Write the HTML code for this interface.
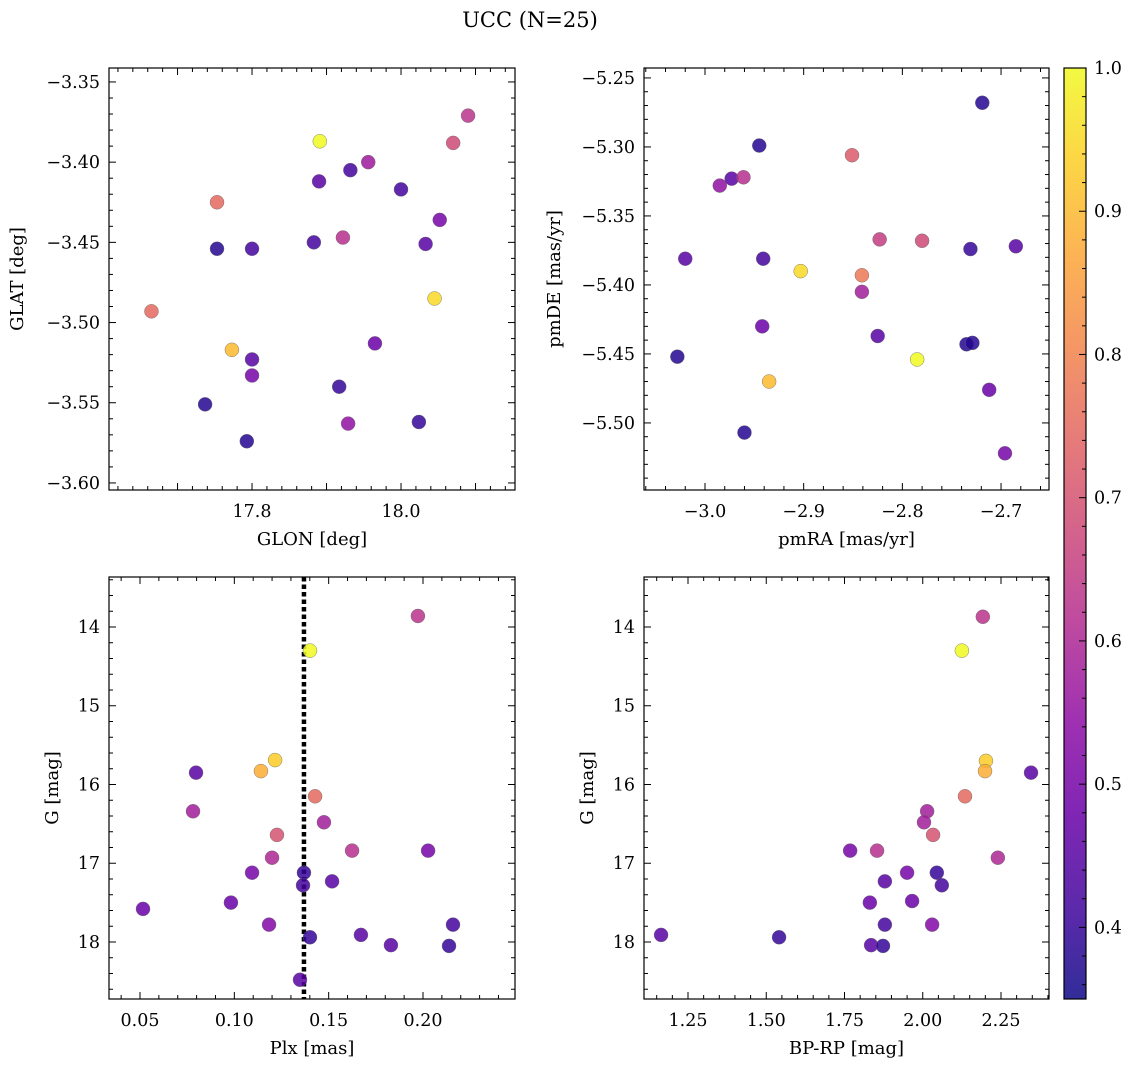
<!DOCTYPE html>
<html><head><meta charset="utf-8"><style>
html,body{margin:0;padding:0;background:#fff}
svg{display:block;font-family:"DejaVu Serif","Liberation Serif",serif}
</style></head><body>
<svg id="fig" width="1136" height="1067" viewBox="0 0 1136 1067" xmlns="http://www.w3.org/2000/svg">
<defs><linearGradient id="cbg" x1="0" y1="1" x2="0" y2="0">
<stop offset="0" stop-color="#0d0887"/><stop offset="0.1" stop-color="#41049d"/><stop offset="0.2" stop-color="#6a00a8"/><stop offset="0.3" stop-color="#8f0da4"/><stop offset="0.4" stop-color="#b12a90"/><stop offset="0.5" stop-color="#cc4778"/><stop offset="0.6" stop-color="#e16462"/><stop offset="0.7" stop-color="#f2844b"/><stop offset="0.8" stop-color="#fca636"/><stop offset="0.9" stop-color="#fcce25"/><stop offset="1" stop-color="#f0f921"/></linearGradient></defs>
<text x="530" y="27" font-size="21" text-anchor="middle">UCC (N=25)</text>
</svg>
<script>
// panel 1: GLON / GLAT
const glon=[18.090,17.891,18.070,17.956,17.932,17.890,18.000,17.753,18.052,17.922,17.883,17.753,17.800,18.033,18.045,17.665,17.773,17.965,17.800,17.800,17.917,17.737,17.929,18.024,17.793];
const glat=[-3.371,-3.387,-3.388,-3.400,-3.405,-3.412,-3.417,-3.425,-3.436,-3.447,-3.450,-3.454,-3.454,-3.451,-3.485,-3.493,-3.517,-3.513,-3.523,-3.533,-3.540,-3.551,-3.563,-3.562,-3.574];
const prob1=[0.63,1.0,0.68,0.57,0.42,0.45,0.42,0.75,0.5,0.62,0.42,0.38,0.42,0.45,0.95,0.75,0.9,0.48,0.45,0.5,0.4,0.38,0.55,0.4,0.38];
// panel 2: pmRA / pmDE
const pmra=[-2.719,-2.945,-2.851,-2.985,-2.973,-2.961,-2.823,-2.780,-2.731,-2.685,-3.020,-2.941,-2.903,-2.841,-2.841,-2.942,-2.825,-2.735,-2.729,-3.028,-2.785,-2.935,-2.712,-2.960,-2.696];
const pmde=[-5.268,-5.299,-5.306,-5.328,-5.323,-5.322,-5.367,-5.368,-5.374,-5.372,-5.381,-5.381,-5.390,-5.393,-5.405,-5.430,-5.437,-5.443,-5.442,-5.452,-5.454,-5.470,-5.476,-5.507,-5.522];
const prob2=[0.38,0.38,0.72,0.55,0.45,0.62,0.65,0.68,0.4,0.45,0.45,0.42,0.95,0.78,0.58,0.48,0.45,0.38,0.38,0.38,1.0,0.9,0.48,0.38,0.5];
// panel 3: Plx / G
const plx=[0.1973,0.1401,0.1216,0.1141,0.0797,0.1428,0.0781,0.1475,0.1226,0.1624,0.2027,0.1200,0.1369,0.1094,0.1518,0.1364,0.0516,0.0982,0.1184,0.2159,0.1671,0.1401,0.1830,0.2138,0.1348];
const gmag=[13.86,14.30,15.69,15.83,15.85,16.15,16.34,16.48,16.64,16.84,16.84,16.93,17.12,17.12,17.23,17.28,17.58,17.50,17.78,17.78,17.91,17.94,18.04,18.05,18.48];
const prob3=[0.63,1.0,0.93,0.88,0.45,0.75,0.58,0.58,0.7,0.62,0.5,0.6,0.4,0.5,0.45,0.42,0.48,0.48,0.52,0.42,0.45,0.4,0.45,0.4,0.45];
const plxLine=[0.1369];
// panel 4: BP-RP / G
const bprp=[2.192,2.125,2.202,2.199,2.346,2.135,2.014,2.004,2.033,1.854,1.768,2.240,2.045,1.950,1.879,2.061,1.966,1.831,2.030,1.879,1.164,1.541,1.835,1.873];
const gmag4=[13.87,14.30,15.70,15.83,15.85,16.15,16.34,16.48,16.64,16.84,16.84,16.93,17.12,17.12,17.23,17.28,17.48,17.50,17.78,17.78,17.91,17.94,18.04,18.05];
const prob4=[0.63,1.0,0.93,0.88,0.45,0.75,0.58,0.58,0.7,0.62,0.5,0.6,0.4,0.5,0.45,0.42,0.48,0.48,0.52,0.42,0.45,0.4,0.45,0.4];
const cbTicks=[0.4,0.5,0.6,0.7,0.8,0.9,1.0];

const NS='http://www.w3.org/2000/svg';
const svg=document.getElementById('fig');
function el(tag,attrs,parent){const e=document.createElementNS(NS,tag);for(const k in attrs)e.setAttribute(k,attrs[k]);(parent||svg).appendChild(e);return e;}
const stops=['#0d0887','#41049d','#6a00a8','#8f0da4','#b12a90','#cc4778','#e16462','#f2844b','#fca636','#fcce25','#f0f921'];
function hex(h){return [1,3,5].map(i=>parseInt(h.substr(i,2),16));}
function plasma(v){let t=(v-0.35)/0.65;t=Math.max(0,Math.min(1,t));const f=t*10,i=Math.min(9,Math.floor(f)),r=f-i;const a=hex(stops[i]),b=hex(stops[i+1]);return 'rgb('+a.map((c,k)=>Math.round(c+(b[k]-c)*r)).join(',')+')';}
const TF=17.5, AF=18;
function panel(o){
  const g=el('g',{});
  
  
  const sx=v=>o.x0+(v-o.xmin)/(o.xmax-o.xmin)*(o.x1-o.x0);
  const sy=v=>o.inv? o.y0+(v-o.ymin)/(o.ymax-o.ymin)*(o.y1-o.y0) : o.y1-(v-o.ymin)/(o.ymax-o.ymin)*(o.y1-o.y0);
  const eps=1e-9;
  for(let v=Math.ceil(o.xmin/o.xminor-eps)*o.xminor; v<=o.xmax+eps; v+=o.xminor){
    const x=sx(v);const maj=Math.abs(v/o.xmajor-Math.round(v/o.xmajor))<1e-6;const L=maj?7:4;
    el('line',{x1:x,x2:x,y1:o.y1,y2:o.y1-L,stroke:'#000','stroke-width':1},g);
    el('line',{x1:x,x2:x,y1:o.y0,y2:o.y0+L,stroke:'#000','stroke-width':1},g);
  }
  o.xlabels.forEach(v=>{const t=el('text',{x:sx(v),y:o.y1+27,'font-size':TF,'text-anchor':'middle'},g);t.textContent=o.xfmt(v);});
  for(let v=Math.ceil(o.ymin/o.yminor-eps)*o.yminor; v<=o.ymax+eps; v+=o.yminor){
    const y=sy(v);const maj=Math.abs(v/o.ymajor-Math.round(v/o.ymajor))<1e-6;const L=maj?7:4;
    el('line',{x1:o.x0,x2:o.x0+L,y1:y,y2:y,stroke:'#000','stroke-width':1},g);
    el('line',{x1:o.x1,x2:o.x1-L,y1:y,y2:y,stroke:'#000','stroke-width':1},g);
  }
  o.ylabels.forEach(v=>{const t=el('text',{x:o.x0-9,y:sy(v)+6,'font-size':TF,'text-anchor':'end'},g);t.textContent=o.yfmt(v);});
  if(o.vline){o.vline.forEach(v=>{const l=el('line',{x1:sx(v),x2:sx(v),y1:o.y0,y2:o.y1,stroke:'#000','stroke-width':4.5,'stroke-dasharray':'4.5,3'},g);});}
  o.xs.forEach((xv,i)=>{
    const c=el('circle',{cx:sx(xv),cy:sy(o.ys[i]),r:7,fill:plasma(o.c[i]),'fill-opacity':0.85,stroke:'#666','stroke-width':0.4},g);
    
    
  });
  const fr=el('rect',{x:o.x0,y:o.y0,width:o.x1-o.x0,height:o.y1-o.y0,fill:'none',stroke:'#000','stroke-width':1.2},g);
  
  const xl=el('text',{x:(o.x0+o.x1)/2,y:o.y1+55,'font-size':AF,'text-anchor':'middle'},g);xl.textContent=o.xtitle;
  
  const ly=o.ytx, my=(o.y0+o.y1)/2;
  const yl=el('text',{x:ly,y:my,'font-size':AF,'text-anchor':'middle',transform:'rotate(-90 '+ly+' '+my+')'},g);yl.textContent=o.ytitle;
  
}
const f1=v=>v.toFixed(1).replace('-','\u2212'), f2=v=>v.toFixed(2).replace('-','\u2212'), f0=v=>v.toFixed(0);
panel({name:'glon-glat-panel',x0:109,x1:515,y0:68,y1:490,xmin:17.608,xmax:18.153,ymin:-3.6044,ymax:-3.3413,xmajor:0.1,xminor:0.02,ymajor:0.05,yminor:0.01,
 xlabels:[17.8,18.0],ylabels:[-3.35,-3.40,-3.45,-3.50,-3.55,-3.60],xfmt:f1,yfmt:f2,xs:glon,ys:glat,c:prob1,xtitle:'GLON [deg]',ytitle:'GLAT [deg]',ytx:23});
panel({name:'pm-panel',x0:644,x1:1049,y0:68,y1:490,xmin:-3.0618,xmax:-2.6514,ymin:-5.5486,ymax:-5.2428,xmajor:0.1,xminor:0.02,ymajor:0.05,yminor:0.01,
 xlabels:[-3.0,-2.9,-2.8,-2.7],ylabels:[-5.25,-5.30,-5.35,-5.40,-5.45,-5.50],xfmt:f1,yfmt:f2,xs:pmra,ys:pmde,c:prob2,xtitle:'pmRA [mas/yr]',ytitle:'pmDE [mas/yr]',ytx:560});
panel({name:'plx-g-panel',x0:109,x1:515,y0:577,y1:999,xmin:0.03357,xmax:0.24876,ymin:13.365,ymax:18.724,inv:true,xmajor:0.05,xminor:0.01,ymajor:1,yminor:0.2,
 xlabels:[0.05,0.10,0.15,0.20],ylabels:[14,15,16,17,18],xfmt:f2,yfmt:f0,xs:plx,ys:gmag,c:prob3,vline:plxLine,xtitle:'Plx [mas]',ytitle:'G [mag]',ytx:58});
panel({name:'cmd-panel',x0:644,x1:1049,y0:577,y1:999,xmin:1.1094,xmax:2.4034,ymin:13.365,ymax:18.724,inv:true,xmajor:0.25,xminor:0.05,ymajor:1,yminor:0.2,
 xlabels:[1.25,1.50,1.75,2.00,2.25],ylabels:[14,15,16,17,18],xfmt:f2,yfmt:f0,xs:bprp,ys:gmag4,c:prob4,xtitle:'BP-RP [mag]',ytitle:'G [mag]',ytx:593});

const cb=el('g',{});


const cx0=1064,cx1=1086,cy0=68,cy1=999,cmin=0.35,cmax=1.0;
const cyy=v=>cy1-(v-cmin)/(cmax-cmin)*(cy1-cy0);
el('rect',{x:cx0,y:cy0,width:cx1-cx0,height:cy1-cy0,fill:'url(#cbg)','fill-opacity':0.85},cb);
for(let k=Math.ceil(cmin/0.02-1e-9);k*0.02<=cmax+1e-9;k++){const v=k*0.02;const y=cyy(v);const maj=Math.abs(v*10-Math.round(v*10))<1e-6;
 el('line',{x1:cx1,x2:cx1-(maj?7:4),y1:y,y2:y,stroke:'#000','stroke-width':1},cb);}
cbTicks.forEach(v=>{const t=el('text',{x:cx1+8,y:cyy(v)+6,'font-size':TF},cb);t.textContent=v.toFixed(1);
 });
el('rect',{x:cx0,y:cy0,width:cx1-cx0,height:cy1-cy0,fill:'none',stroke:'#000','stroke-width':1.2},cb);
</script>
</body></html>
